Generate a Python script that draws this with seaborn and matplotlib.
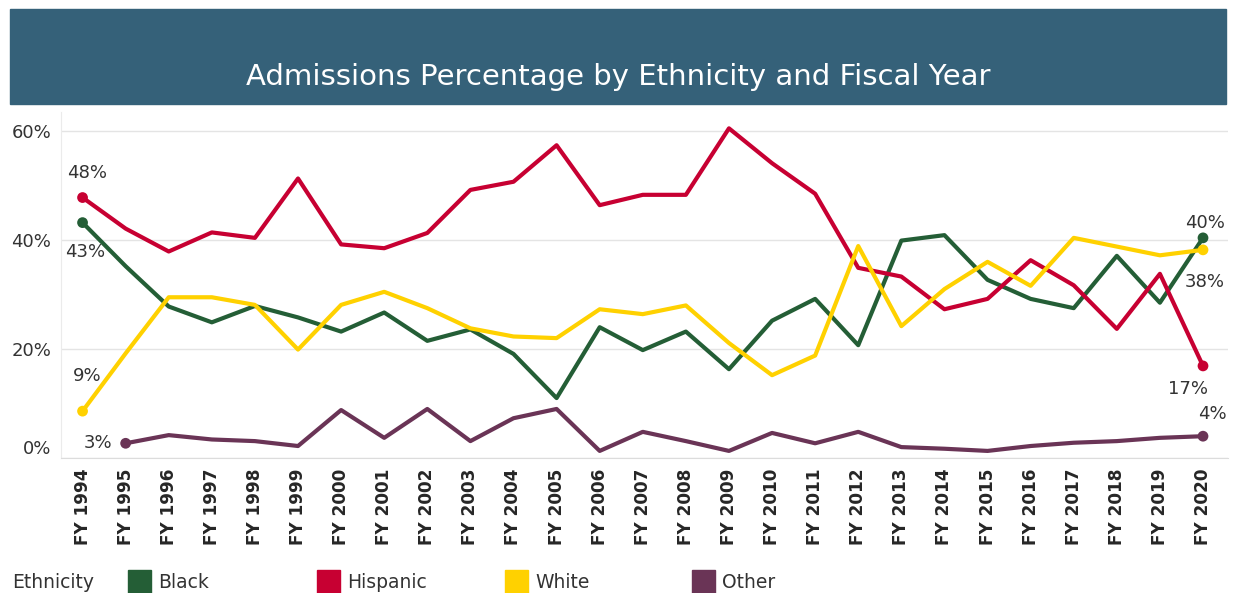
import numpy as np
import pandas as pd
import matplotlib
matplotlib.use("Agg")
import matplotlib.pyplot as plt
from matplotlib.patches import Rectangle
import seaborn as sns

# values (percent)
years = [f"FY {y}" for y in range(1994, 2021)]
black = [43.2, 35.2, 27.8, 24.9, 27.9, 25.8, 23.2, 26.7, 21.5, 23.6, 19.1, 11.0, 24.0, 19.8,
         23.2, 16.3, 25.2, 29.2, 20.7, 39.9, 40.9, 32.7, 29.2, 27.5, 37.1, 28.5, 40.4]
hispanic = [47.8, 42.1, 37.9, 41.4, 40.4, 51.3, 39.2, 38.5, 41.3, 49.2, 50.7, 57.4, 46.4, 48.3,
            48.3, 60.5, 54.1, 48.5, 34.9, 33.3, 27.3, 29.2, 36.3, 31.7, 23.7, 33.8, 16.9]
white = [8.6, 19.2, 29.5, 29.5, 28.1, 19.9, 28.1, 30.5, 27.5, 23.8, 22.3, 22.0, 27.3, 26.4,
         28.0, 21.1, 15.2, 18.8, 38.9, 24.2, 31.0, 36.0, 31.6, 40.4, 38.8, 37.2, 38.2]
other = [np.nan, 2.7, 4.2, 3.4, 3.1, 2.2, 8.8, 3.7, 9.0, 3.1, 7.3, 9.0, 1.3, 4.8,
         3.1, 1.3, 4.6, 2.7, 4.8, 2.0, 1.7, 1.3, 2.2, 2.8, 3.1, 3.7, 4.0]

groups = ["Black", "Hispanic", "White", "Other"]
colors = {"Black": "#245e36", "Hispanic": "#c70032", "White": "#ffd100", "Other": "#6a3456"}

# long format table for seaborn
series = {"Black": black, "Hispanic": hispanic, "White": white, "Other": other}
rows = []
for g in groups:
    for i, v in enumerate(series[g]):
        rows.append({"idx": i, "Year": years[i], "Ethnicity": g, "Pct": v})
df = pd.DataFrame(rows).dropna()

sns.set_style("white")
plt.rcParams["font.family"] = ["DejaVu Sans"]

fig = plt.figure(figsize=(12.33, 5.93), dpi=100)
W, H = 1233, 593

# title banner
fig.add_artist(Rectangle((10 / W, 1 - 104 / H), 1216 / W, 95 / H,
                         transform=fig.transFigure, color="#356179", zorder=0))
fig.text(0.5 * (10 + 1226) / W, 1 - 77 / H, "Admissions Percentage by Ethnicity and Fiscal Year",
         ha="center", va="center", color="white", fontsize=21)

ax = fig.add_axes([61 / W, 1 - 458 / H, (1228 - 61) / W, (458 - 112) / H])

sns.lineplot(data=df, x="idx", y="Pct", hue="Ethnicity", hue_order=groups,
             palette=colors, lw=3, legend=False, ax=ax, zorder=3)

# end point markers
ends = df.groupby("Ethnicity").agg(first=("idx", "min"), last=("idx", "max"))
pts = pd.concat([df[(df["Ethnicity"] == g) & (df["idx"].isin([ends.loc[g, "first"], ends.loc[g, "last"]]))]
                 for g in groups])
sns.scatterplot(data=pts, x="idx", y="Pct", hue="Ethnicity", hue_order=groups, palette=colors,
                s=60, edgecolor="none", legend=False, ax=ax, zorder=4)

# end labels (offsets in points)
label_offsets = {
    ("Hispanic", "first"): (3.6, 18), ("Black", "first"): (2, -21),
    ("White", "first"): (3.6, 25), ("Other", "first"): (-20, 0),
    ("Black", "last"): (1.5, 11), ("White", "last"): (1.5, -23),
    ("Hispanic", "last"): (-11, -16.5), ("Other", "last"): (6.5, 16),
}
for (g, which), off in label_offsets.items():
    i = ends.loc[g, which]
    v = series[g][i]
    ax.annotate(f"{v:.0f}%", (i, v), xytext=off, textcoords="offset points",
                ha="center", va="center", fontsize=13, color="#333333")

ax.set_xlim(-0.49, len(years) - 1 + 0.58)
ax.set_ylim(0, 63.5)
ax.set_yticks([0, 20, 40, 60])
ax.set_yticklabels(["0%", "20%", "40%", "60%"], fontsize=13, color="#333333")
ax.get_yticklabels()[0].set_verticalalignment("bottom")
ax.set_xticks(range(len(years)))
ax.set_xticklabels(years, rotation=90, fontsize=12.2, fontweight="bold", va="top")
ax.set_xticks(np.arange(-0.5, len(years)), minor=True)
ax.tick_params(axis="x", which="major", length=0, pad=7.5)
ax.tick_params(axis="x", which="minor", length=8, color="#e0e0e0", width=1)
ax.tick_params(axis="y", length=0, pad=7)
ax.set_xlabel("")
ax.set_ylabel("")
ax.yaxis.grid(True, color="#e4e4e4", lw=1)
for s in ["top", "right"]:
    ax.spines[s].set_visible(False)
ax.spines["left"].set_color("#ebebeb")
ax.spines["bottom"].set_color("#dcdcdc")

# legend along the bottom
fig.text(12 / W, 1 - 582 / H, "Ethnicity", ha="left", va="center", fontsize=13.5, color="#333333")
for g, x0 in zip(groups, [128, 317, 505, 692]):
    fig.add_artist(Rectangle((x0 / W, 0), 23 / W, 23 / H,
                             transform=fig.transFigure, color=colors[g]))
    fig.text((x0 + 30) / W, 1 - 582 / H, g, ha="left", va="center", fontsize=13.5, color="#333333")

fig.savefig("out.png", dpi=100, facecolor="white")
